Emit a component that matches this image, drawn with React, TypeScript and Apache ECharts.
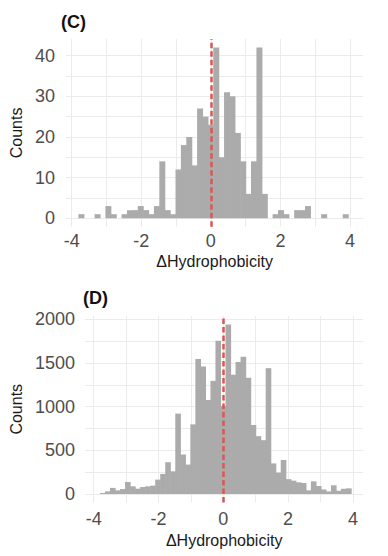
import React, { useEffect, useRef } from 'react';
import * as echarts from 'echarts';

// Histogram bins (shared by both panels): centre of first bin and bin width
const FIRST_BIN_CENTER = -3.72;
const BIN_WIDTH = 0.155;

// Panel (C) counts per bin, from left to right
const COUNTS_C = [
  1, 0, 0, 1, 0, 3, 1, 0, 1, 2,
  2, 3, 2, 1, 3, 14, 2, 1, 12, 18,
  20, 13, 27, 25, 23, 42, 15, 31, 30, 21,
  14, 6, 14, 42, 6, 0, 1, 2, 1, 0,
  2, 2, 3, 0, 0, 1, 0, 0, 0, 1,
];

// Panel (D) counts per bin, from left to right
const COUNTS_D = [
  12, 30, 70, 42, 57, 138, 88, 61, 80, 88,
  96, 165, 230, 364, 260, 920, 452, 337, 797, 1544,
  1460, 1076, 1295, 1754, 1007, 1940, 1365, 1510, 1570, 1330,
  790, 662, 616, 1440, 350, 245, 390, 170, 153, 134,
  126, 42, 145, 92, 52, 30, 100, 38, 60, 65,
];

const X_TICK_LABELS = [-4, -2, 0, 2, 4];
const X_GRID_VALUES = [-4, -3, -2, -1, 0, 1, 2, 3, 4];
const Y_TICK_LABELS_C = [0, 10, 20, 30, 40];
const Y_GRID_VALUES_C = [0, 5, 10, 15, 20, 25, 30, 35, 40];
const Y_TICK_LABELS_D = [0, 500, 1000, 1500, 2000];
const Y_GRID_VALUES_D = [0, 250, 500, 750, 1000, 1250, 1500, 1750, 2000];

const X_TITLE = 'ΔHydrophobicity';
const Y_TITLE = 'Counts';

const FONT = 'Liberation Sans';
const BAR_COLOR = '#ababab';
const GRID_COLOR = '#ebebeb';
const REF_COLOR = '#d95757';

function toData(counts: number[]) {
  return counts.map((c, i) => [FIRST_BIN_CENTER + i * BIN_WIDTH, c]);
}

function renderBar(params: any, api: any) {
  const x = api.value(0);
  const c = api.value(1);
  if (!c) return null;
  const p0 = api.coord([x - BIN_WIDTH / 2, c]);
  const p1 = api.coord([x + BIN_WIDTH / 2, 0]);
  return {
    type: 'rect',
    shape: { x: p0[0] - 0.3, y: p0[1], width: p1[0] - p0[0] + 0.6, height: p1[1] - p0[1] },
    style: { fill: BAR_COLOR },
  };
}

const fmt = (v: number) => String(v);

function xAxis(gridIndex: number, min: number, max: number, labelMargin: number, nameGap: number) {
  return {
    gridIndex,
    type: 'value',
    min,
    max,
    axisLine: { show: false },
    axisTick: { show: false, customValues: X_GRID_VALUES },
    axisLabel: {
      customValues: X_TICK_LABELS,
      formatter: fmt,
      margin: labelMargin,
      color: '#4d4d4d',
      fontSize: 18,
      fontFamily: FONT,
    },
    splitLine: { show: true, lineStyle: { color: GRID_COLOR, width: 1 } },
    name: X_TITLE,
    nameLocation: 'middle',
    nameGap,
    nameTextStyle: { color: '#1a1a1a', fontSize: 16, fontFamily: FONT },
  };
}

function yAxis(gridIndex: number, min: number, max: number, labels: number[], grid: number[], labelMargin: number, nameGap: number) {
  return {
    gridIndex,
    type: 'value',
    min,
    max,
    axisLine: { show: false },
    axisTick: { show: false, customValues: grid },
    axisLabel: {
      customValues: labels,
      formatter: fmt,
      margin: labelMargin,
      color: '#4d4d4d',
      fontSize: 18,
      fontFamily: FONT,
    },
    splitLine: { show: true, lineStyle: { color: GRID_COLOR, width: 1 } },
    name: Y_TITLE,
    nameLocation: 'middle',
    nameGap,
    nameTextStyle: { color: '#1a1a1a', fontSize: 16, fontFamily: FONT },
  };
}

function refLine() {
  return {
    silent: true,
    symbol: ['none', 'none'],
    label: { show: false },
    emphasis: { disabled: true },
    lineStyle: { color: REF_COLOR, type: [5.5, 3], width: 2.5 },
    data: [{ xAxis: 0 }],
  };
}

export default function App() {
  const ref = useRef<HTMLDivElement>(null);

  useEffect(() => {
    document.body.style.margin = '0';
    if (!ref.current) return;
    const chart = echarts.init(ref.current, undefined, { renderer: 'svg' });
    chart.setOption({
      animation: false,
      backgroundColor: '#ffffff',
      title: [
        {
          text: '(C)',
          left: 61,
          top: 13,
          padding: 0,
          textStyle: { fontSize: 18, fontWeight: 'bold', color: '#111', fontFamily: FONT },
        },
        {
          text: '(D)',
          left: 83,
          top: 289,
          padding: 0,
          textStyle: { fontSize: 18, fontWeight: 'bold', color: '#111', fontFamily: FONT },
        },
      ],
      grid: [
        { left: 63.3, right: 24.7, top: 39, height: 187.8 },
        { left: 85, right: 24.7, top: 316, height: 186.5 },
      ],
      xAxis: [
        xAxis(0, -4.165, 4.38, 5, 27),
        xAxis(1, -4.268, 4.321, 7, 30),
      ],
      yAxis: [
        yAxis(0, -2.1, 44.1, Y_TICK_LABELS_C, Y_GRID_VALUES_C, 11, 35),
        yAxis(1, -97, 2037, Y_TICK_LABELS_D, Y_GRID_VALUES_D, 10, 57),
      ],
      series: [
        {
          type: 'custom',
          xAxisIndex: 0,
          yAxisIndex: 0,
          renderItem: renderBar,
          encode: { x: 0, y: 1 },
          data: toData(COUNTS_C),
          silent: true,
          markLine: refLine(),
        },
        {
          type: 'custom',
          xAxisIndex: 1,
          yAxisIndex: 1,
          renderItem: renderBar,
          encode: { x: 0, y: 1 },
          data: toData(COUNTS_D),
          silent: true,
          markLine: refLine(),
        },
      ],
    });
    return () => chart.dispose();
  }, []);

  return <div ref={ref} style={{ width: 388, height: 556 }} />;
}
